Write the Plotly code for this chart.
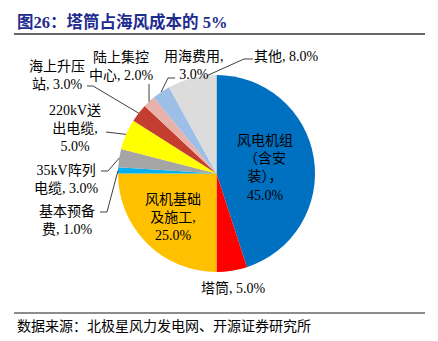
import math
import plotly.graph_objects as go

W, H = 438, 341

# ---- data ----
categories = ["风电机组（含安装）", "塔筒", "风机基础及施工", "基本预备费", "35kV阵列电缆",
              "220kV送出电缆", "海上升压站", "陆上集控中心", "用海费用", "其他"]
values = [45.0, 5.0, 25.0, 1.0, 3.0, 5.0, 3.0, 2.0, 3.0, 8.0]
label_texts = ["风电机组<br>（含安<br>装），<br>{v:.1f}%",
               "塔筒, {v:.1f}%",
               "风机基础<br>及施工,<br>{v:.1f}%",
               "基本预备<br>费, {v:.1f}%",
               "35kV阵列<br>电缆, {v:.1f}%",
               "220kV送<br>出电缆,<br>{v:.1f}%",
               "海上升压<br>站, {v:.1f}%",
               "陆上集控<br>中心, {v:.1f}%",
               "用海费用,<br>{v:.1f}%",
               "其他, {v:.1f}%"]
colors = ["#0070C0", "#FF0000", "#FFC000", "#00B0F0", "#A5A5A5",
          "#FFFF00", "#C43E2F", "#E8B2AA", "#9DBEE6", "#DCDCDC"]

title_text = "图26：塔筒占海风成本的 5%"
source_text = "数据来源：北极星风力发电网、开源证券研究所"

# ---- layout helpers (pixel -> paper) ----
def px(x):
    return x / W

def py(y):
    return 1 - y / H

CX, CY, R = 216.5, 173.5, 98.5
FONT = "Liberation Serif, 'Noto Sans CJK SC', serif"

# label placement (pixel centres) and leader elbows (pixel), style only
label_pos = [(265, 168), (233, 288), (173, 217), (67, 220), (66, 179),
             (75, 128), (57, 75), (121, 66), (194, 65), (286, 57)]
leader_elbows = [None, None, None,
                 [(100, 212), (107, 212)],
                 [(101, 171), (108, 171)],
                 [(106, 132)],
                 [(87, 86), (93, 86)],
                 [(149, 84)],
                 [(175, 78), (168, 78)],
                 [(253, 59), (244, 59)]]
anchor_frac = [0.5] * 9 + [0.82]

fig = go.Figure()
fig.add_trace(go.Pie(
    labels=categories, values=values, sort=False, direction="clockwise", rotation=0,
    marker=dict(colors=colors, line=dict(width=0)),
    textinfo="none", hoverinfo="label+percent", showlegend=False,
    domain=dict(x=[px(CX - R), px(CX + R)], y=[py(CY + R), py(CY - R)]),
))

total = sum(values)
annotations = []
shapes = []
cum = 0.0
for i, v in enumerate(values):
    ang = (cum + anchor_frac[i] * v) / total * 2 * math.pi
    cum += v
    lx, ly = label_pos[i]
    annotations.append(dict(
        x=px(lx), y=py(ly), xref="paper", yref="paper", showarrow=False,
        xanchor="center", yanchor="middle",
        text=label_texts[i].format(v=v), align="center",
        font=dict(family=FONT, size=14, color="#000000"),
    ))
    if leader_elbows[i]:
        ax = CX + R * math.sin(ang)
        ay = CY - R * math.cos(ang)
        pts = leader_elbows[i] + [(ax, ay)]
        path = "M " + " L ".join(f"{px(x):.5f},{py(y):.5f}" for x, y in pts)
        shapes.append(dict(type="path", path=path, xref="paper", yref="paper",
                           line=dict(color="#404040", width=1)))

annotations.append(dict(x=px(15), y=py(22), xref="paper", yref="paper", showarrow=False,
                        xanchor="left", yanchor="middle", text="<b>" + title_text + "</b>",
                        font=dict(family=FONT, size=16.5, color="#1F2C8F")))
annotations.append(dict(x=px(15), y=py(326), xref="paper", yref="paper", showarrow=False,
                        xanchor="left", yanchor="middle", text=source_text,
                        font=dict(family=FONT, size=14, color="#000000")))

shapes.append(dict(type="line", xref="paper", yref="paper", x0=px(14), x1=px(425),
                   y0=py(34), y1=py(34), line=dict(color="#333333", width=1.5)))
shapes.append(dict(type="line", xref="paper", yref="paper", x0=px(14), x1=px(425),
                   y0=py(313), y1=py(313), line=dict(color="#8C8C8C", width=2)))

fig.update_layout(width=W, height=H, margin=dict(l=0, r=0, t=0, b=0),
                  paper_bgcolor="white", plot_bgcolor="white",
                  annotations=annotations, shapes=shapes)
fig.write_html("out.html")
